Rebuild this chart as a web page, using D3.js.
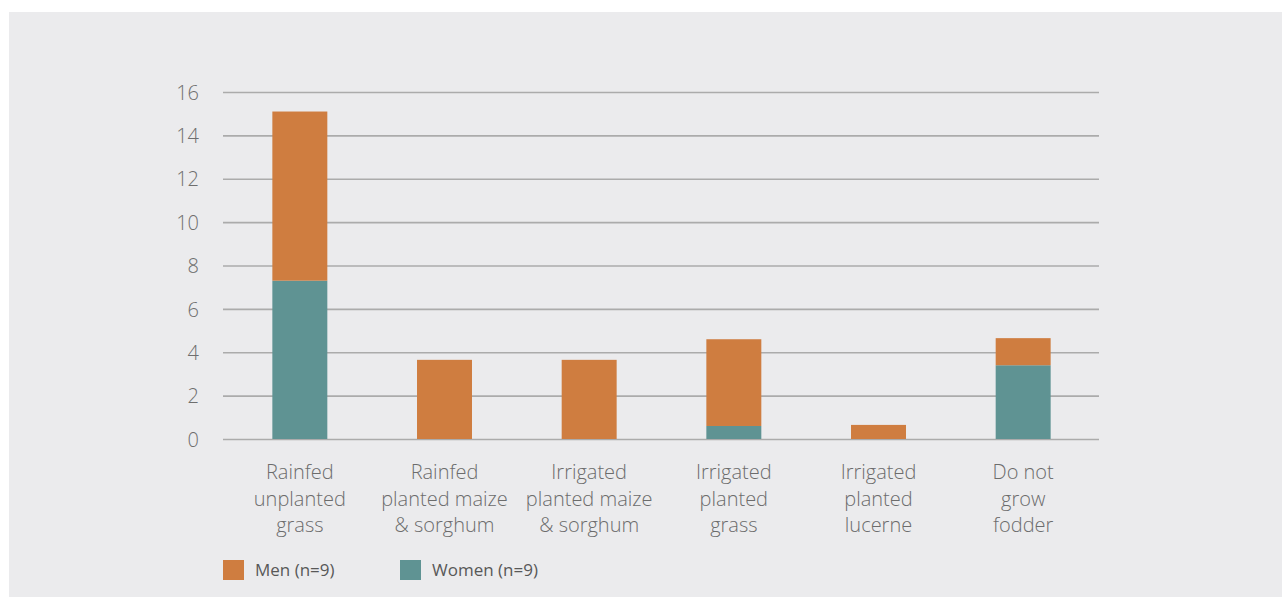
<!DOCTYPE html>
<html>
<head>
<meta charset="utf-8">
<script src="https://cdn.jsdelivr.net/npm/d3@7"></script>
<style>
  html, body { margin: 0; padding: 0; background: #ffffff; }
  svg { display: block; }
</style>
</head>
<body>
<svg id="chart" width="1282" height="597"></svg>
<script>
// Fodder types grown, by gender of respondent
const categories = [
  ["Rainfed", "unplanted", "grass"],
  ["Rainfed", "planted maize", "& sorghum"],
  ["Irrigated", "planted maize", "& sorghum"],
  ["Irrigated", "planted", "grass"],
  ["Irrigated", "planted", "lucerne"],
  ["Do not", "grow", "fodder"]
];
const women = [7.3, 0, 0, 0.6, 0, 3.4];
const men   = [7.8, 3.65, 3.65, 4.0, 0.65, 1.25];
const seriesNames = ["Women (n=9)", "Men (n=9)"];
const legendNames = ["Men (n=9)", "Women (n=9)"];
const yTicks = [0, 2, 4, 6, 8, 10, 12, 14, 16];

const colors = { "Men (n=9)": "#cf7d40", "Women (n=9)": "#5f9393" };
const fontFamily = "'Open Sans', 'Noto Sans', sans-serif";

const svg = d3.select("#chart");

// grey panel
svg.append("rect")
  .attr("x", 9).attr("y", 12)
  .attr("width", 1282 - 9).attr("height", 597 - 12)
  .attr("fill", "#ebebed");

const plot = { left: 223, right: 1099, top: 92, bottom: 439 };

const x = d3.scaleBand()
  .domain(d3.range(categories.length))
  .range([227.5, 1095.5])
  .paddingInner(0.62)
  .paddingOuter(0.31);

const y = d3.scaleLinear()
  .domain([0, 16])
  .range([plot.bottom, plot.top]);

// gridlines and tick labels
const yAxis = d3.axisLeft(y)
  .tickValues(yTicks)
  .tickSize(-(plot.right - plot.left))
  .tickPadding(24)
  .tickFormat(d3.format("d"));

const gy = svg.append("g")
  .attr("transform", `translate(${plot.left},0)`)
  .call(yAxis);
gy.select(".domain").remove();
gy.selectAll(".tick line")
  .attr("stroke", "#ababab")
  .attr("stroke-width", 1.6);
gy.selectAll(".tick text")
  .attr("fill", "#6e6e6e")
  .attr("font-family", fontFamily)
  .attr("font-weight", 300)
  .attr("font-size", 20)
  .attr("dy", "0.36em");

// stacked bars
const rows = categories.map((c, i) => ({ i, "Women (n=9)": women[i], "Men (n=9)": men[i] }));
const stack = d3.stack().keys(seriesNames)(rows);

svg.append("g")
  .selectAll("g")
  .data(stack)
  .join("g")
  .attr("fill", d => colors[d.key])
  .selectAll("rect")
  .data(d => d.filter(s => s[1] - s[0] > 0))
  .join("rect")
  .attr("x", d => x(d.data.i))
  .attr("width", x.bandwidth())
  .attr("y", d => y(d[1]))
  .attr("height", d => y(d[0]) - y(d[1]));

// category labels
const labels = svg.append("g")
  .attr("font-family", fontFamily)
  .attr("font-weight", 300)
  .attr("font-size", 20)
  .attr("fill", "#6c6c6c")
  .attr("text-anchor", "middle");

categories.forEach((lines, i) => {
  const t = labels.append("text")
    .attr("x", x(i) + x.bandwidth() / 2)
    .attr("y", 479);
  lines.forEach((ln, k) => {
    t.append("tspan")
      .attr("x", x(i) + x.bandwidth() / 2)
      .attr("dy", k === 0 ? 0 : 26.5)
      .text(ln);
  });
});

// legend
const legend = svg.append("g")
  .attr("font-family", fontFamily)
  .attr("font-size", 17)
  .attr("fill", "#585858");

const legendX = [223, 400];
legendNames.forEach((name, i) => {
  const g = legend.append("g").attr("transform", `translate(${legendX[i]},560)`);
  g.append("rect").attr("width", 21).attr("height", 20).attr("fill", colors[name]);
  g.append("text").attr("x", 32).attr("y", 15.5).text(name);
});
</script>
</body>
</html>
